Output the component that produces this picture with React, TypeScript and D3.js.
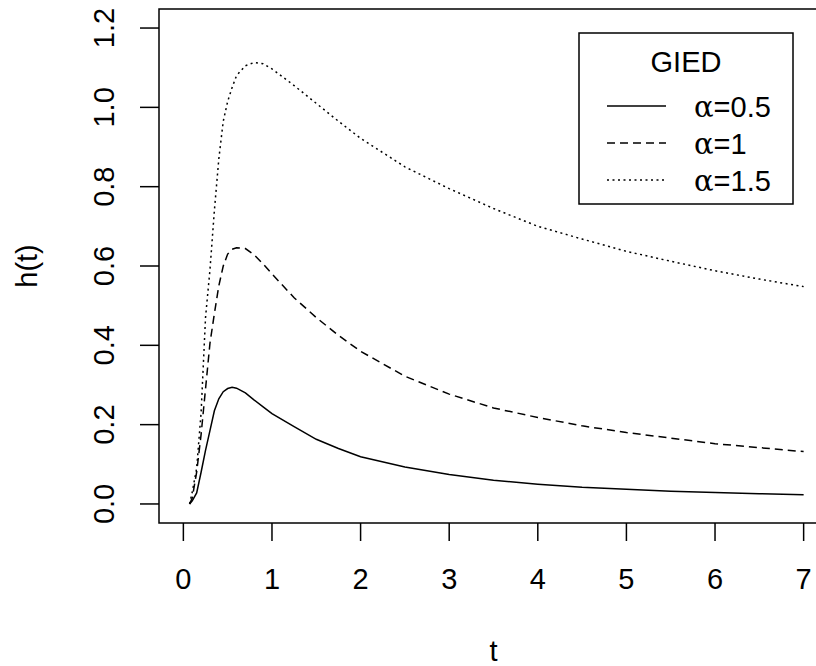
import { useMemo } from 'react';
import * as d3 from 'd3';

// time grid for the hazard curves
const tValues = [0.07, 0.1, 0.15, 0.2, 0.25, 0.3, 0.35, 0.4, 0.45, 0.5, 0.55, 0.6, 0.7, 0.8, 0.9, 1.0, 1.25, 1.5, 1.75, 2, 2.5, 3, 3.5, 4, 4.5, 5, 5.5, 6, 6.5, 7];

// h(t) for alpha = 0.5, 1, 1.5
const hAlpha05 = [0, 0.008, 0.028, 0.08, 0.135, 0.185, 0.235, 0.265, 0.283, 0.291, 0.294, 0.292, 0.28, 0.262, 0.245, 0.228, 0.195, 0.163, 0.14, 0.119, 0.093, 0.074, 0.06, 0.05, 0.042, 0.037, 0.032, 0.029, 0.026, 0.023];
const hAlpha1 = [0, 0.015, 0.08, 0.175, 0.29, 0.405, 0.48, 0.55, 0.6, 0.63, 0.642, 0.646, 0.644, 0.628, 0.605, 0.58, 0.52, 0.47, 0.425, 0.385, 0.322, 0.277, 0.242, 0.218, 0.197, 0.18, 0.166, 0.152, 0.142, 0.132];
const hAlpha15 = [0, 0.03, 0.09, 0.23, 0.47, 0.59, 0.74, 0.87, 0.965, 1.015, 1.05, 1.08, 1.105, 1.113, 1.11, 1.097, 1.055, 1.01, 0.965, 0.922, 0.85, 0.795, 0.745, 0.7, 0.668, 0.637, 0.612, 0.588, 0.567, 0.548];

const seriesLabels = ['0.5', '1', '1.5'];
const seriesDash = ['', '8,5', '2,3.5'];
const xTicks = [0, 1, 2, 3, 4, 5, 6, 7];
const yTicks = [0, 0.2, 0.4, 0.6, 0.8, 1.0, 1.2];

const W = 816;
const H = 666;
const FONT = 'Liberation Sans, Arial, Helvetica, sans-serif';
const FS = 29;

export default function App() {
  const x = d3.scaleLinear().domain([-0.275, 7.275]).range([159, 828]);
  const y = d3.scaleLinear().domain([-0.048, 1.248]).range([523, 9]);

  const series = [hAlpha05, hAlpha1, hAlpha15];

  const line = useMemo(
    () =>
      d3
        .line<number>()
        .x((_, i) => x(tValues[i]))
        .y((d) => y(d)),
    []
  );

  const [bx0, bx1] = x.range();
  const [by0, by1] = y.range();

  // legend layout
  const lg = { x0: 579, x1: 793, y0: 33, y1: 204, lineX0: 607, lineX1: 666, textX: 694, firstBase: 117, step: 37 };

  return (
    <svg width={W} height={H} style={{ display: 'block', position: 'absolute', left: 0, top: 0, background: '#fff' }} fontFamily={FONT}>
      {/* box */}
      <rect x={bx0} y={by1} width={bx1 - bx0} height={by0 - by1} fill="none" stroke="#000" strokeWidth={1.5} />

      {/* x axis */}
      {xTicks.map((t) => (
        <g key={'x' + t}>
          <line x1={x(t)} x2={x(t)} y1={by0} y2={by0 + 18} stroke="#000" strokeWidth={1.5} />
          <text x={x(t)} y={589} fontSize={FS} textAnchor="middle">{d3.format('d')(t)}</text>
        </g>
      ))}
      <text x={(x(0) + x(7)) / 2} y={661} fontSize={FS} textAnchor="middle">t</text>

      {/* y axis */}
      {yTicks.map((v) => (
        <g key={'y' + v}>
          <line x1={bx0} x2={bx0 - 19} y1={y(v)} y2={y(v)} stroke="#000" strokeWidth={1.5} />
          <text transform={`translate(114,${y(v)}) rotate(-90)`} fontSize={FS} textAnchor="middle">{d3.format('.1f')(v)}</text>
        </g>
      ))}
      <text transform={`translate(37,${(y(0) + y(1.2)) / 2}) rotate(-90)`} fontSize={FS} textAnchor="middle">h(t)</text>

      {/* curves */}
      {series.map((s, i) => (
        <path key={'s' + i} d={line(s) || ''} fill="none" stroke="#000" strokeWidth={1.5} strokeDasharray={seriesDash[i] || undefined} />
      ))}

      {/* legend */}
      <rect x={lg.x0} y={lg.y0} width={lg.x1 - lg.x0} height={lg.y1 - lg.y0} fill="#fff" stroke="#000" strokeWidth={1.5} />
      <text x={(lg.x0 + lg.x1) / 2} y={72} fontSize={FS} textAnchor="middle">GIED</text>
      {seriesLabels.map((lab, i) => {
        const base = lg.firstBase + i * lg.step;
        return (
          <g key={'lg' + i}>
            <line x1={lg.lineX0} x2={lg.lineX1} y1={base - 11} y2={base - 11} stroke="#000" strokeWidth={1.5} strokeDasharray={seriesDash[i] || undefined} />
            <text x={lg.textX} y={base} fontSize={FS}>
              <tspan fontFamily="DejaVu Serif, Liberation Serif, serif">α</tspan>
              <tspan>={lab}</tspan>
            </text>
          </g>
        );
      })}
    </svg>
  );
}
